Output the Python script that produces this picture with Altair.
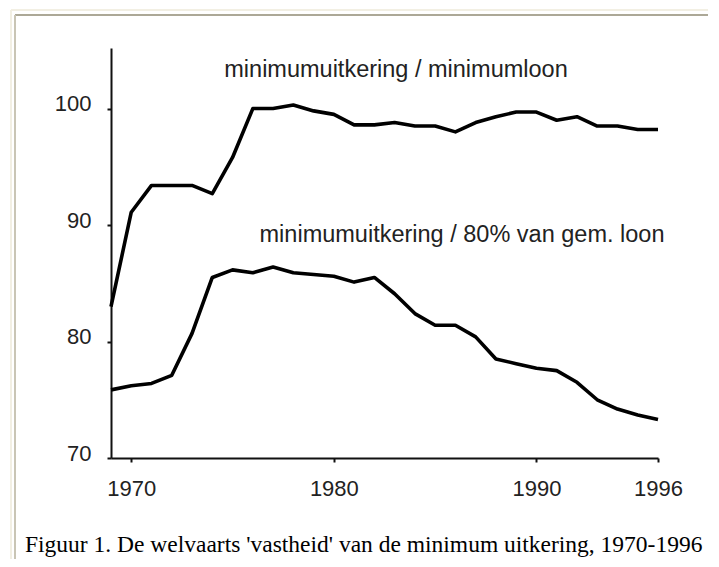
import altair as alt
import pandas as pd

years = list(range(1969, 1997))
uitkering_minimumloon = [83.0, 91.1, 93.4, 93.4, 93.4, 92.7, 95.8, 100.0, 100.0, 100.3,
                         99.8, 99.5, 98.6, 98.6, 98.8, 98.5, 98.5, 98.0, 98.8, 99.3,
                         99.7, 99.7, 99.0, 99.3, 98.5, 98.5, 98.2, 98.2]
uitkering_80_gem_loon = [75.85, 76.2, 76.4, 77.1, 80.7, 85.5, 86.15, 85.9, 86.4, 85.9,
                         85.75, 85.6, 85.1, 85.5, 84.1, 82.4, 81.4, 81.4, 80.4, 78.5,
                         78.1, 77.7, 77.5, 76.5, 75.0, 74.2, 73.7, 73.3]
series_names = ["minimumuitkering / minimumloon", "minimumuitkering / 80% van gem. loon"]
x_ticks = [1970, 1980, 1990, 1996]
y_ticks = [70, 80, 90, 100]
caption = "Figuur 1. De welvaarts 'vastheid' van de minimum uitkering, 1970-1996"

df = pd.DataFrame({
    "jaar": years * 2,
    "waarde": uitkering_minimumloon + uitkering_80_gem_loon,
    "reeks": [series_names[0]] * len(years) + [series_names[1]] * len(years),
})

W, H = 547, 410

x_scale = alt.Scale(domain=[1969, 1996], nice=False, zero=False)
y_scale = alt.Scale(domain=[70, 105.2], nice=False, zero=False)

lines = alt.Chart(df).mark_line(color="#000000", strokeWidth=3.6, strokeJoin="round").encode(
    x=alt.X("jaar:Q", scale=x_scale,
            axis=alt.Axis(values=x_ticks, format="d", title=None, grid=False,
                          domainColor="#111", domainWidth=2, tickColor="#111", tickWidth=2,
                          tickSize=4, labelFontSize=22, labelFont="Liberation Sans",
                          labelColor="#222", labelPadding=16, labelFlush=False)),
    y=alt.Y("waarde:Q", scale=y_scale,
            axis=alt.Axis(values=y_ticks, title=None, grid=False,
                          domainColor="#111", domainWidth=2, tickColor="#111", tickWidth=2,
                          tickSize=4, labelFontSize=22, labelFont="Liberation Sans",
                          labelColor="#222", labelPadding=16, labelOffset=-5)),
    detail="reeks:N",
)

lab_df = pd.DataFrame({"tekst": series_names, "px": [285, 351], "py": [29, 194]})
labels = alt.Chart(lab_df).mark_text(
    font="Liberation Sans", fontSize=23.5, color="#222", align="center", baseline="alphabetic"
).encode(
    x=alt.X("px:Q", scale=None), y=alt.Y("py:Q", scale=None), text="tekst:N"
)

cap = alt.Chart(pd.DataFrame({"t": [caption]})).mark_text(
    font="Liberation Serif", fontSize=23.5, color="#000", align="left", baseline="alphabetic"
).encode(x=alt.value(-86), y=alt.value(504), text="t:N")

frame_top_light = alt.Chart(pd.DataFrame({"a": [0]})).mark_rule(color="#f2efe3", strokeWidth=2).encode(
    x=alt.value(-100), x2=alt.value(605), y=alt.value(-38))
frame_top = alt.Chart(pd.DataFrame({"a": [0]})).mark_rule(color="#aca897", strokeWidth=2).encode(
    x=alt.value(-96), x2=alt.value(605), y=alt.value(-33))
frame_left_light = alt.Chart(pd.DataFrame({"a": [0]})).mark_rule(color="#f2efe3", strokeWidth=2).encode(
    x=alt.value(-100), y=alt.value(-38), y2=alt.value(520))
frame_left = alt.Chart(pd.DataFrame({"a": [0]})).mark_rule(color="#c9c5b5", strokeWidth=2).encode(
    x=alt.value(-96), y=alt.value(-33), y2=alt.value(520))
frame_right = alt.Chart(pd.DataFrame({"a": [0]})).mark_rule(color="#d0d0d0", strokeWidth=2).encode(
    x=alt.value(601), y=alt.value(-24), y2=alt.value(480))

chart = alt.layer(
    frame_top_light, frame_top, frame_left_light, frame_left, frame_right,
    lines, labels, cap
).properties(
    width=W, height=H,
    autosize=alt.AutoSizeParams(type="none"),
    padding={"left": 103, "top": 40, "right": 50, "bottom": 101},
    background="white",
).configure_view(stroke=None)

chart.save("out.html", embed_options={"renderer": "svg", "actions": False})
